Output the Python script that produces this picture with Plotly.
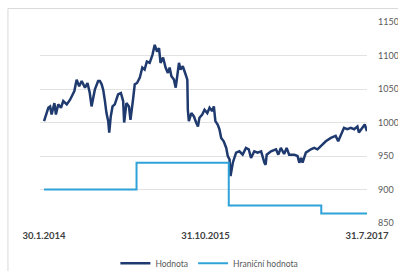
import plotly.graph_objects as go

hodnota_dates = [
    "2014-01-30", "2014-02-07", "2014-02-16", "2014-02-23", "2014-03-01", "2014-03-12", "2014-03-18",
    "2014-03-27", "2014-04-07", "2014-04-16", "2014-04-30", "2014-05-13", "2014-05-19", "2014-05-30",
    "2014-06-08", "2014-06-18", "2014-06-28", "2014-07-11", "2014-07-21", "2014-07-30", "2014-08-06",
    "2014-08-19", "2014-09-01", "2014-09-08", "2014-09-15", "2014-09-21", "2014-09-28", "2014-10-04",
    "2014-10-11", "2014-10-15", "2014-10-21", "2014-10-28", "2014-11-06", "2014-11-19", "2014-11-30",
    "2014-12-09", "2014-12-13", "2014-12-22", "2015-01-01", "2015-01-07", "2015-01-17", "2015-01-24",
    "2015-02-02", "2015-02-13", "2015-02-23", "2015-03-04", "2015-03-13", "2015-03-24", "2015-04-04",
    "2015-04-13", "2015-04-22", "2015-04-30", "2015-05-06", "2015-05-16", "2015-05-26", "2015-06-04",
    "2015-06-11", "2015-06-18", "2015-06-28", "2015-07-05", "2015-07-11", "2015-07-18", "2015-07-24",
    "2015-08-02", "2015-08-13", "2015-08-20", "2015-08-22", "2015-08-26", "2015-09-05", "2015-09-15",
    "2015-09-24", "2015-10-01", "2015-10-07", "2015-10-18", "2015-10-27", "2015-11-07", "2015-11-16",
    "2015-11-26", "2015-12-03", "2015-12-09", "2015-12-18", "2015-12-25", "2016-01-01", "2016-01-11",
    "2016-01-21", "2016-01-27", "2016-02-03", "2016-02-07", "2016-02-16", "2016-02-29", "2016-03-13",
    "2016-03-26", "2016-04-08", "2016-04-19", "2016-04-28", "2016-05-11", "2016-05-24", "2016-06-07",
    "2016-06-20", "2016-06-25", "2016-06-29", "2016-07-16", "2016-08-05", "2016-08-14", "2016-08-24",
    "2016-09-06", "2016-09-16", "2016-09-26", "2016-10-16", "2016-10-29", "2016-11-05", "2016-11-12",
    "2016-11-18", "2016-12-01", "2016-12-21", "2017-01-03", "2017-01-16", "2017-01-29", "2017-02-18",
    "2017-03-10", "2017-03-29", "2017-04-08", "2017-04-18", "2017-05-01", "2017-05-14", "2017-05-28",
    "2017-06-10", "2017-06-23", "2017-06-29", "2017-07-12", "2017-07-22", "2017-07-31",
]
hodnota_values = [
    1002, 1012, 1022, 1024, 1012, 1029, 1012,
    1027, 1022, 1032, 1027, 1034, 1039, 1047,
    1064, 1054, 1062, 1052, 1059, 1044, 1024,
    1049, 1062, 1062, 1057, 1049, 1032, 1014,
    1002, 985, 1009, 1024, 1027, 1042, 1044,
    1032, 1000, 1029, 1024, 1004, 1034, 1057,
    1059, 1067, 1082, 1079, 1091, 1089, 1101,
    1116, 1106, 1111, 1089, 1097, 1082, 1074,
    1082, 1069, 1064, 1052, 1069, 1089, 1079,
    1084, 1072, 1064, 1019, 1002, 1014, 1009,
    1000, 994, 1007, 1012, 1019, 1014, 1022,
    1017, 1024, 1002, 997, 990, 977, 972,
    962, 950, 945, 920, 940, 955, 957,
    952, 962, 960, 947, 957, 955, 957,
    940, 937, 952, 957, 960, 952, 962,
    953, 962, 952, 952, 950, 940, 947,
    940, 955, 960, 962, 960, 965, 972,
    977, 980, 972, 982, 992, 990, 992,
    990, 994, 985, 992, 997, 987,
]

limit_dates = ["2014-01-30", "2015-01-31", "2016-01-31", "2017-01-31", "2017-07-31"]
limit_values = [900, 940, 876, 864, 864]

y_ticks = [850, 900, 950, 1000, 1050, 1100, 1150]
x_tick_dates = ["2014-01-30", "2015-10-31", "2017-07-31"]
x_tick_labels = ["30.1.2014", "31.10.2015", "31.7.2017"]

series_names = ["Hodnota", "Hraniční hodnota"]

fig = go.Figure()
fig.add_trace(go.Scatter(
    x=hodnota_dates, y=hodnota_values, mode="lines", name=series_names[0],
    line=dict(color="#1f3a6e", width=2.5),
))
fig.add_trace(go.Scatter(
    x=limit_dates, y=limit_values, mode="lines", name=series_names[1],
    line=dict(color="#2fa3d9", width=2, shape="hv"),
))

fig.update_layout(
    width=398, height=271,
    margin=dict(l=40, r=31, t=22, b=48, autoexpand=False),
    paper_bgcolor="white", plot_bgcolor="white",
    font=dict(family="Lato, Open Sans, sans-serif", color="#595959", size=9),
    showlegend=True,
    legend=dict(orientation="h", x=0.518, xanchor="center", y=-0.2, yanchor="middle",
                font=dict(size=8.5, color="#595959"), itemwidth=30, bgcolor="rgba(0,0,0,0)"),
    xaxis=dict(
        type="date", range=["2014-01-14", "2017-07-31"], automargin=False,
        showgrid=False, zeroline=False, showline=False,
        tickmode="array", tickvals=x_tick_dates, ticktext=x_tick_labels,
        tickfont=dict(size=9.5, color="#404040", family="Lato, sans-serif", weight="bold"),
        ticks="", ticklabelstandoff=5,
    ),
    yaxis=dict(
        range=[850, 1150], side="right", automargin=False,
        tickmode="array", tickvals=y_ticks,
        showgrid=True, gridcolor="#e2e2e2", gridwidth=1,
        zeroline=False, showline=False, ticks="", ticklabelstandoff=10,
        tickfont=dict(size=9, color="#595959"),
    ),
    shapes=[dict(type="rect", xref="paper", yref="paper",
                 x0=-0.098, x1=1.3, y0=-0.4, y1=1.067,
                 line=dict(color="#d9d9d9", width=1), layer="below")],
)

fig.write_html("out.html", config={"displayModeBar": False},
               post_script="document.body.style.margin='0';document.body.style.overflow='hidden';")
